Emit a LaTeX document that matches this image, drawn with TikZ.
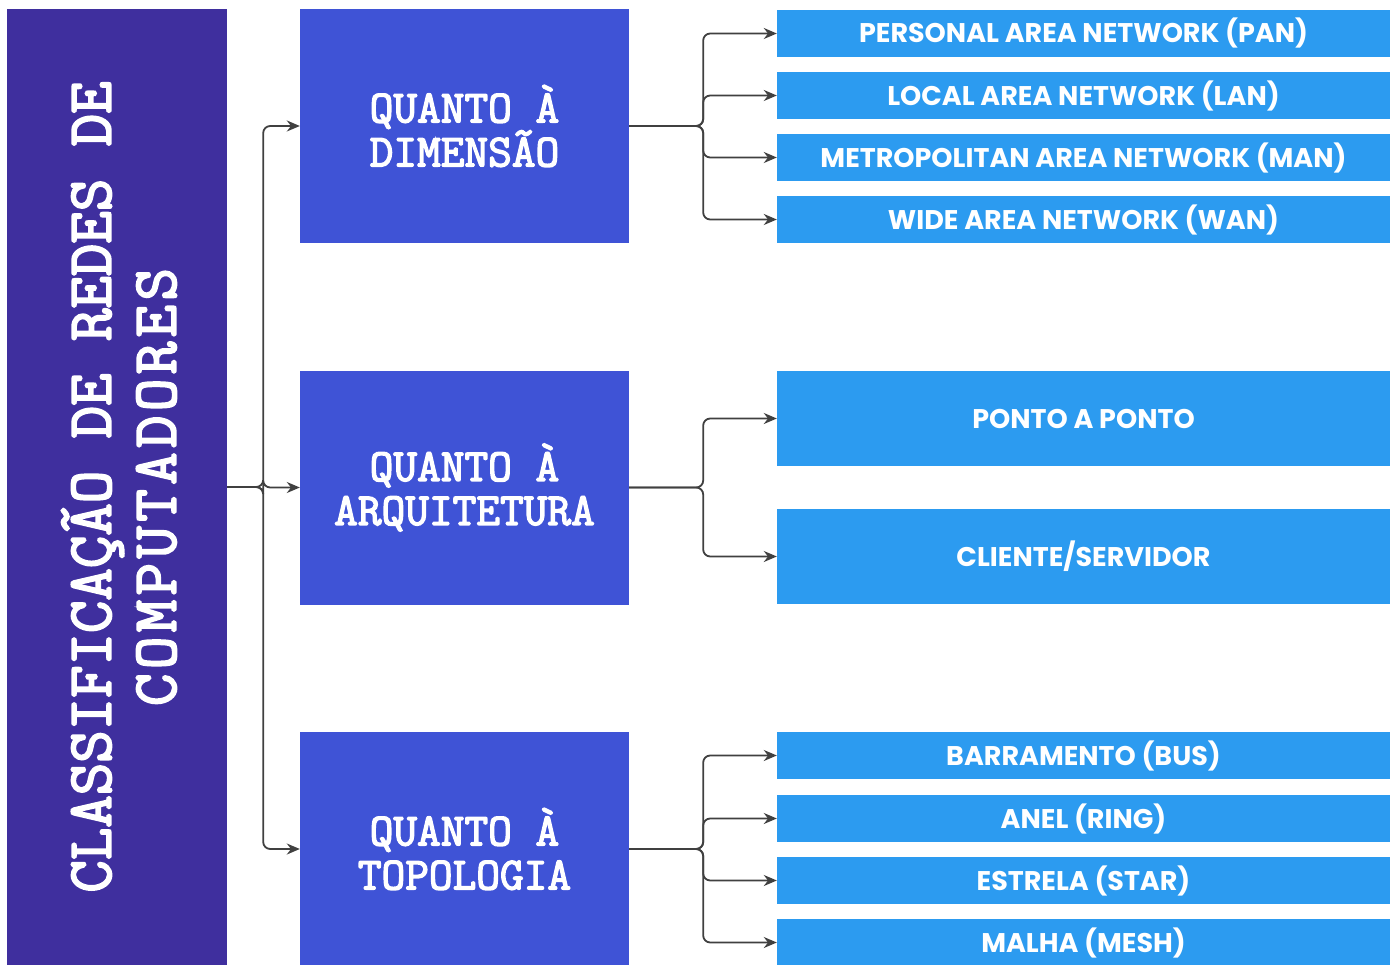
\documentclass[tikz,border=0pt]{standalone}
\usepackage{fontspec}
\newfontfamily\pop{Poppins}[BoldFont={Poppins Bold}]
\newfontfamily\slab{Latin Modern Mono}[FakeBold=3]
\usetikzlibrary{arrows.meta,calc}
\definecolor{cleft}{HTML}{3F2F9E}
\definecolor{cmid}{HTML}{3F53D6}
\definecolor{cright}{HTML}{2C9BF0}
\definecolor{cline}{HTML}{404040}
\begin{document}
\begin{tikzpicture}[x=1pt,y=-1pt,
  leftbox/.style={fill=cleft,draw=none,minimum width=220pt,minimum height=956pt,inner sep=0pt},
  midbox/.style={fill=cmid,draw=none,minimum width=329pt,minimum height=234pt,inner sep=0pt,
    text=white,align=center,font=\slab\bfseries\fontsize{46}{44}\selectfont},
  rbox/.style={fill=cright,draw=none,minimum width=613pt,minimum height=47pt,inner sep=0pt,
    text=white,font=\pop\bfseries\fontsize{27}{28}\selectfont},
  rbigbox/.style={rbox,minimum height=95pt},
  vtext/.style={text=white,rotate=90,align=center,font=\slab\bfseries\fontsize{63}{65}\selectfont},
  conn/.style={draw=cline,line width=1.8pt,rounded corners=7pt,-{Stealth[length=13pt,width=11pt]}}
]
\useasboundingbox (0,0) rectangle (1394,965);
\fill[white] (0,0) rectangle (1394,965);
% left
\node[leftbox] (L) at (117,487) {};
\node[vtext] (Lt) at (119,487) {CLASSIFICAÇÃO DE REDES DE\\{\addfontfeature{LetterSpace=7}COMPUTADORES}};
% middle
\node[midbox] (m1) at (464.5,126) {QUANTO À\\DIMENSÃO};
\node[midbox] (m2) at (464.5,487.5) {QUANTO À\\ARQUITETURA};
\node[midbox] (m3) at (464.5,849) {QUANTO À\\TOPOLOGIA};
% right
\node[rbox] (r1) at (1083.5,33.5) {PERSONAL AREA NETWORK (PAN)};
\node[rbox] (r2) at (1083.5,95.5) {LOCAL AREA NETWORK (LAN)};
\node[rbox] (r3) at (1083.5,157.5) {METROPOLITAN AREA NETWORK (MAN)};
\node[rbox] (r4) at (1083.5,219.5) {WIDE AREA NETWORK (WAN)};
\node[rbigbox] (p1) at (1083.5,418.5) {PONTO A PONTO};
\node[rbigbox] (p2) at (1083.5,556.5) {CLIENTE/SERVIDOR};
\node[rbox] (t1) at (1083.5,755.5) {BARRAMENTO (BUS)};
\node[rbox] (t2) at (1083.5,818.5) {ANEL (RING)};
\node[rbox] (t3) at (1083.5,880.5) {ESTRELA (STAR)};
\node[rbox] (t4) at (1083.5,942.5) {MALHA (MESH)};
% junctions
\coordinate (j0) at ($(L.east)+(36,0)$);
\coordinate (j1) at ($(m1.east)+(74,0)$);
\coordinate (j2) at ($(m2.east)+(74,0)$);
\coordinate (j3) at ($(m3.east)+(74,0)$);
% connectors
\foreach \t in {m1,m2,m3} \draw[conn] (L.east) -- (j0) |- (\t.west);
\foreach \t in {r1,r2,r3,r4} \draw[conn] (m1.east) -- (j1) |- (\t.west);
\foreach \t in {p1,p2} \draw[conn] (m2.east) -- (j2) |- (\t.west);
\foreach \t in {t1,t2,t3,t4} \draw[conn] (m3.east) -- (j3) |- (\t.west);
\end{tikzpicture}
\end{document}
